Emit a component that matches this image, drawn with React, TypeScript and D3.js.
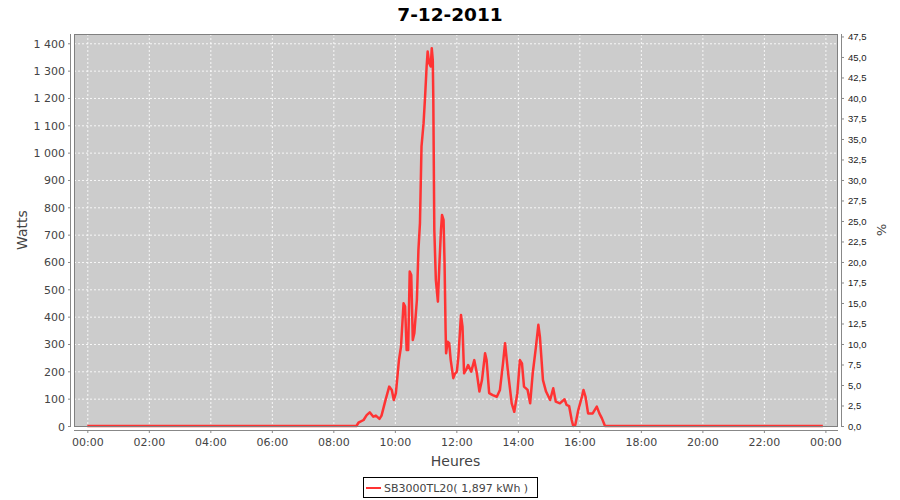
import React from "react";
import * as d3 from "d3";

const title = "7-12-2011";
const seriesName = "SB3000TL20( 1,897 kWh )";

const times = [
  "00:00", "08:45", "08:49", "08:59", "09:05", "09:11", "09:18", "09:23", "09:30", "09:34",
  "09:41", "09:49", "09:54", "09:58", "10:02", "10:08", "10:12", "10:17", "10:20", "10:23",
  "10:26", "10:29", "10:32", "10:35", "10:38", "10:43", "10:46", "10:49", "10:52", "10:56",
  "10:59", "11:02", "11:04", "11:07", "11:10", "11:12", "11:14", "11:15", "11:17", "11:20",
  "11:24", "11:27", "11:30", "11:32", "11:35", "11:37", "11:39", "11:40", "11:43", "11:46",
  "11:49", "11:54", "11:57", "12:01", "12:04", "12:09", "12:12", "12:15", "12:19", "12:23",
  "12:29", "12:35", "12:40", "12:45", "12:50", "12:56", "12:59", "13:04", "13:11", "13:19",
  "13:25", "13:31", "13:35", "13:41", "13:48", "13:53", "13:59", "14:04", "14:08", "14:12",
  "14:19", "14:24", "14:29", "14:35", "14:40", "14:43", "14:49", "14:55", "15:03", "15:09",
  "15:14", "15:22", "15:31", "15:35", "15:40", "15:45", "15:48", "15:52", "15:58", "16:05",
  "16:08", "16:12", "16:17", "16:26", "16:34", "16:39", "16:44", "16:50", "23:55",
];

const watts = [
  0, 0, 12, 22, 40, 50, 34, 38, 26, 38,
  89, 144, 132, 95, 120, 241, 290, 449, 437, 278,
  278, 565, 552, 315, 339, 461, 644, 742, 1022, 1107,
  1205, 1315, 1370, 1327, 1315, 1382, 1339, 1205, 717, 534,
  455, 595, 717, 772, 754, 595, 351, 266, 308, 303,
  241, 175, 190, 199, 254, 406, 363, 193, 205, 223,
  199, 241, 193, 126, 168, 266, 241, 120, 113, 107,
  132, 229, 303, 193, 83, 52, 120, 241, 229, 144,
  132, 83, 193, 285, 370, 327, 168, 126, 95, 138,
  89, 83, 98, 77, 73, 22, 0, 4, 59, 107,
  132, 107, 46, 46, 71, 46, 28, 0, 0,
];

const leftTicks = [0, 100, 200, 300, 400, 500, 600, 700, 800, 900, 1000, 1100, 1200, 1300, 1400];
const rightTicks = [0, 2.5, 5, 7.5, 10, 12.5, 15, 17.5, 20, 22.5, 25, 27.5, 30, 32.5, 35, 37.5, 40, 42.5, 45, 47.5];
const xTickHours = [0, 2, 4, 6, 8, 10, 12, 14, 16, 18, 20, 22, 24];
const xTickLabels = ["00:00", "02:00", "04:00", "06:00", "08:00", "10:00", "12:00", "14:00", "16:00", "18:00", "20:00", "22:00", "00:00"];

const frLocale = d3.formatLocale({ decimal: ",", thousands: " ", grouping: [3], currency: ["", " €"] });
const fmtLeft = frLocale.format(",d");
const fmtRight = frLocale.format(".1f");

const toHours = (s: string) => {
  const [h, m] = s.split(":").map(Number);
  return h + m / 60;
};

export default function App() {
  const L = 74, R = 838, T = 34, B = 426;
  const x = d3.scaleLinear().domain([-0.433, 24.41]).range([L, R]);
  const y = d3.scaleLinear().domain([0, 1434]).range([B, T]);
  const y2 = d3.scaleLinear().domain([0, 47.8]).range([B, T]);

  const data = times.map((t, i) => ({ h: toHours(t), w: watts[i] }));
  const line = d3.line<{ h: number; w: number }>().x((d) => x(d.h)).y((d) => y(d.w));

  const font = "DejaVu Sans, sans-serif";
  const gray = "#444";
  const axisColor = "#888";

  return (
    <svg width={900} height={500} style={{ position: "absolute", left: 0, top: 0 }} fontFamily={font}>
      <rect x={0} y={0} width={900} height={500} fill="#fff" />
      <text x={450} y={21} textAnchor="middle" fontSize={18.5} fontWeight="bold" fill="#000">{title}</text>

      <rect x={L} y={T} width={R - L} height={B - T} fill="#cccccc" />
      {leftTicks.map((t) => (
        <line key={"gy" + t} x1={L} x2={R} y1={y(t) + 0.5} y2={y(t) + 0.5} stroke="#fff" strokeOpacity={0.85} strokeDasharray="2,2" />
      ))}
      {xTickHours.map((h) => (
        <line key={"gx" + h} x1={x(h) + 0.5} x2={x(h) + 0.5} y1={T} y2={B} stroke="#fff" strokeOpacity={0.85} strokeDasharray="2,2" />
      ))}

      <path d={line(data) || ""} fill="none" stroke="#ff3333" strokeWidth={2.5} strokeLinejoin="round" />
      <rect x={L + 0.5} y={T + 0.5} width={R - L - 1} height={B - T} fill="none" stroke="#808080" strokeWidth={1} />

      {/* left axis */}
      <line x1={70.5} x2={70.5} y1={T} y2={B + 1} stroke={axisColor} />
      {leftTicks.map((t) => (
        <g key={"l" + t}>
          <line x1={68} x2={70.5} y1={y(t) + 0.5} y2={y(t) + 0.5} stroke={axisColor} />
          <text x={65} y={y(t) + 4.5} textAnchor="end" fontSize={11} fill={gray}>{fmtLeft(t)}</text>
        </g>
      ))}
      <text transform={`translate(27,230) rotate(-90)`} textAnchor="middle" fontSize={14} fill={gray}>Watts</text>

      {/* right axis */}
      <line x1={841.5} x2={841.5} y1={T} y2={B + 1} stroke={axisColor} />
      {rightTicks.map((t) => (
        <g key={"r" + t}>
          <line x1={841.5} x2={844} y1={y2(t) + 0.5} y2={y2(t) + 0.5} stroke={axisColor} />
          <text x={848} y={y2(t) + 3.8} textAnchor="start" fontSize={9.5} fontFamily="Liberation Sans, Arial, sans-serif" fill="#222">{fmtRight(t)}</text>
        </g>
      ))}
      <text transform={`translate(877,230) rotate(90)`} textAnchor="middle" fontSize={13} fill={gray}>%</text>

      {/* bottom axis */}
      <line x1={L} x2={R} y1={430.5} y2={430.5} stroke={axisColor} />
      {xTickHours.map((h, i) => (
        <g key={"b" + i}>
          <line x1={x(h) + 0.5} x2={x(h) + 0.5} y1={430.5} y2={433} stroke={axisColor} />
          <text x={x(h) + 0.5} y={446} textAnchor="middle" fontSize={11} fill={gray}>{xTickLabels[i]}</text>
        </g>
      ))}
      <text x={455.5} y={466} textAnchor="middle" fontSize={14} fill={gray}>Heures</text>

      {/* legend */}
      <rect x={363.5} y={477.5} width={174} height={20} fill="#fff" stroke="#000" />
      <line x1={366} x2={381} y1={488} y2={488} stroke="#ff3333" strokeWidth={2} />
      <text x={384} y={492} fontSize={11} fill={gray}>{seriesName}</text>
    </svg>
  );
}
